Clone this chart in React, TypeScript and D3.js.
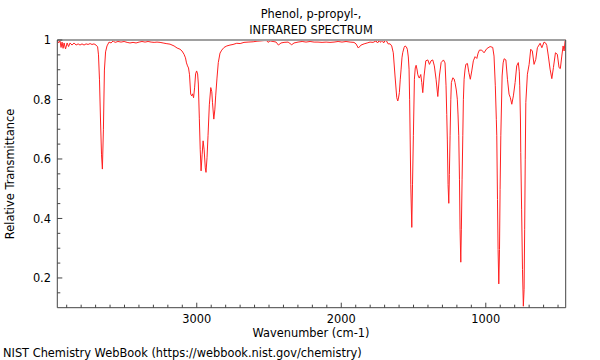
import React from "react";
import * as d3 from "d3";

const wavenumbers = [3965,3957,3946,3939,3932,3925,3918,3908,3897,3887,3877,3863,3849,3835,3821,3808,3794,3780,3766,3752,3738,3725,3711,3697,3686,3680,3673,3666,3659,3653,3646,3639,3631,3621,3607,3593,3579,3565,3545,3524,3503,3482,3462,3441,3420,3399,3379,3358,3337,3316,3295,3275,3254,3233,3212,3185,3157,3136,3116,3102,3088,3078,3071,3064,3057,3050,3042,3035,3029,3022,3015,3008,3001,2994,2989,2982,2976,2970,2963,2956,2949,2941,2936,2929,2922,2913,2903,2896,2891,2882,2875,2869,2860,2851,2839,2827,2811,2792,2770,2749,2723,2700,2673,2645,2610,2583,2555,2534,2516,2507,2493,2472,2451,2435,2417,2396,2368,2343,2327,2299,2271,2244,2216,2188,2161,2133,2105,2078,2050,2022,1995,1967,1939,1912,1898,1882,1863,1842,1821,1801,1780,1759,1749,1738,1728,1718,1707,1697,1687,1676,1662,1651,1640,1628,1616,1609,1604,1598,1592,1586,1580,1575,1565,1559,1550,1543,1536,1531,1527,1523,1519,1512,1507,1501,1494,1488,1482,1475,1471,1465,1460,1450,1443,1436,1427,1415,1401,1390,1379,1367,1356,1344,1332,1321,1309,1293,1282,1275,1270,1266,1261,1256,1252,1247,1242,1238,1228,1219,1213,1204,1197,1192,1187,1182,1178,1173,1169,1164,1159,1155,1150,1144,1138,1127,1117,1107,1097,1086,1074,1062,1053,1044,1028,1012,993,970,952,943,934,927,924,919,915,910,905,901,896,887,880,873,861,850,839,830,820,809,797,786,775,768,765,760,758,752,746,740,735,731,727,723,712,700,689,678,666,654,643,624,612,597,586,578,567,555,543,532,518,505,493,484,474,465,458,451,447];

const transmittance = [1.0,0.990,0.997,0.975,0.993,0.972,0.990,0.970,0.990,0.978,0.990,0.983,0.990,0.983,0.987,0.983,0.987,0.983,0.987,0.985,0.988,0.985,0.987,0.983,0.977,0.950,0.866,0.731,0.614,0.566,0.698,0.899,0.960,0.980,0.993,0.990,0.997,0.992,0.995,0.993,0.995,0.992,0.990,0.992,0.990,0.993,0.995,0.993,0.995,0.993,0.992,0.993,0.992,0.990,0.988,0.986,0.980,0.973,0.969,0.963,0.952,0.940,0.923,0.913,0.906,0.883,0.818,0.812,0.819,0.806,0.839,0.886,0.896,0.886,0.852,0.735,0.631,0.560,0.614,0.661,0.631,0.570,0.555,0.604,0.678,0.782,0.840,0.826,0.789,0.734,0.765,0.812,0.872,0.924,0.956,0.966,0.975,0.980,0.983,0.985,0.989,0.988,0.992,0.993,0.994,0.996,0.997,0.998,0.998,0.992,0.997,0.995,0.993,0.983,0.990,0.992,0.993,0.984,0.990,0.993,0.995,0.993,0.995,0.993,0.993,0.992,0.993,0.992,0.993,0.995,0.993,0.995,0.993,0.992,0.987,0.973,0.983,0.987,0.990,0.993,0.992,0.997,0.990,0.998,0.992,1.0,0.990,0.998,0.997,0.987,0.987,0.980,0.957,0.879,0.806,0.795,0.805,0.823,0.866,0.902,0.940,0.957,0.975,0.980,0.977,0.969,0.943,0.902,0.799,0.664,0.513,0.370,0.513,0.678,0.868,0.906,0.915,0.899,0.885,0.876,0.872,0.884,0.857,0.823,0.879,0.930,0.933,0.918,0.930,0.933,0.913,0.868,0.810,0.879,0.924,0.933,0.923,0.846,0.749,0.664,0.514,0.451,0.548,0.678,0.799,0.857,0.873,0.869,0.857,0.832,0.801,0.748,0.678,0.530,0.364,0.253,0.364,0.530,0.678,0.799,0.868,0.899,0.918,0.921,0.890,0.868,0.896,0.930,0.944,0.938,0.956,0.966,0.966,0.957,0.971,0.978,0.975,0.946,0.846,0.732,0.678,0.464,0.296,0.180,0.296,0.497,0.678,0.879,0.923,0.937,0.933,0.868,0.818,0.806,0.784,0.812,0.857,0.913,0.924,0.893,0.846,0.731,0.622,0.429,0.228,0.105,0.161,0.362,0.597,0.790,0.885,0.918,0.969,0.963,0.918,0.935,0.974,0.989,0.974,0.993,0.990,0.982,0.946,0.902,0.870,0.907,0.957,0.952,0.907,0.904,0.946,0.980,0.963,0.997,1.002];

const xMajorTicks = [3000, 2000, 1000];
const yMajorTicks = [0.2, 0.4, 0.6, 0.8, 1];
const xDomain = [3965, 447];
const yDomain = [0.1, 1];

const titleLines = ["Phenol, p-propyl-,", "INFRARED SPECTRUM"];

export default function App() {
  const W = 600, H = 360;
  const left = 57.3, right = 565.7, top = 40, bottom = 307.7;
  const x = d3.scaleLinear().domain(xDomain).range([left, right]);
  const y = d3.scaleLinear().domain(yDomain).range([bottom, top]);
  const pts: [number, number][] = wavenumbers.map((w, i) => [w, transmittance[i]]);
  const line = d3.line<[number, number]>().x(d => x(d[0])).y(d => y(d[1]));
  const xMinor = d3.range(500, 4000, 100).filter(v => v >= 447 && v <= 3965 && v % 1000 !== 0);
  const yMinor = d3.range(0.15, 1.0, 0.05).map(v => +v.toFixed(2)).filter(v => Math.abs((v * 10) % 2) > 0.01 && !yMajorTicks.includes(v));
  const font = "DejaVu Sans, sans-serif";
  const fs = 11.4;
  return (
    <svg width={W} height={H} style={{ position: "absolute", left: 0, top: 0, background: "#fff" }} fontFamily={font}>
      <defs>
        <clipPath id="plot"><rect x={left} y={top - 1} width={right - left} height={bottom - top + 1} /></clipPath>
      </defs>
      {titleLines.map((t, i) => (
        <text key={t} x={311} y={18 + i * 16} textAnchor="middle" fontSize={fs} fill="#000">{t}</text>
      ))}
      <path d={line(pts) || ""} fill="none" stroke="#ff2020" strokeWidth={1} clipPath="url(#plot)" />
      <line x1={left} x2={right} y1={top} y2={top} stroke="#a0a0a0" strokeWidth={2} />
      <line x1={left} x2={left} y1={top} y2={bottom} stroke="#444" strokeWidth={1} />
      <line x1={left} x2={right} y1={bottom} y2={bottom} stroke="#444" strokeWidth={1} />
      <line x1={right} x2={right} y1={top} y2={bottom} stroke="#444" strokeWidth={1} />
      {xMinor.map(v => (
        <line key={"xm" + v} x1={x(v)} x2={x(v)} y1={bottom} y2={bottom - 3} stroke="#444" />
      ))}
      {xMajorTicks.map(v => (
        <g key={"xM" + v}>
          <line x1={x(v)} x2={x(v)} y1={bottom} y2={bottom - 5} stroke="#444" />
          <text x={x(v)} y={323} textAnchor="middle" fontSize={fs} fill="#000">{v}</text>
        </g>
      ))}
      {yMinor.map(v => (
        <line key={"ym" + v} x1={left} x2={left + 3} y1={y(v)} y2={y(v)} stroke="#444" />
      ))}
      {yMajorTicks.map(v => (
        <g key={"yM" + v}>
          <line x1={left} x2={left + 5} y1={y(v)} y2={y(v)} stroke="#444" />
          <text x={51} y={y(v) + 4.3} textAnchor="end" fontSize={fs} fill="#000">{v === 1 ? "1" : v.toFixed(1)}</text>
        </g>
      ))}
      <text x={311} y={337} textAnchor="middle" fontSize={fs} fill="#000">Wavenumber (cm-1)</text>
      <text transform="translate(14,174) rotate(-90)" textAnchor="middle" fontSize={fs} fill="#000">Relative Transmittance</text>
      <text x={3} y={357} fontSize={fs} fill="#000">NIST Chemistry WebBook (https://webbook.nist.gov/chemistry)</text>
    </svg>
  );
}
